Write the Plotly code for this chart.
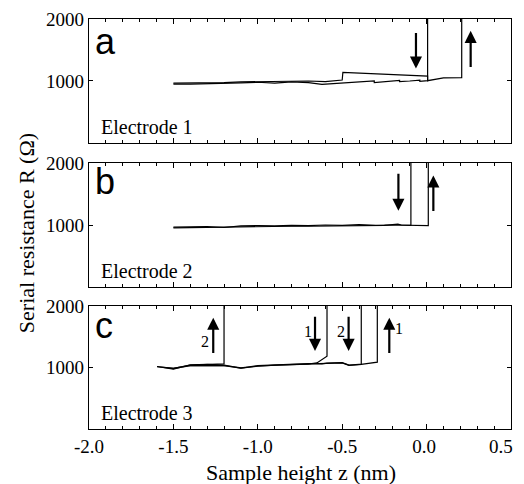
import plotly.graph_objects as go

# ---------------- data (sample height z in nm, resistance R in ohm) ----------------
# Panel a, Electrode 1
a_down_z = [0.006, 0.006, -0.04, -0.04, -0.10, -0.16, -0.16, -0.25, -0.31, -0.31, -0.40, -0.50,
            -0.62, -0.70, -0.80, -0.90, -1.00, -1.10, -1.20, -1.30, -1.40, -1.50]
a_down_R = [2000, 1005, 995, 1015, 1000, 990, 1010, 995, 975, 1000, 985, 965,
            945, 975, 985, 965, 980, 970, 960, 955, 950, 950]
a_up_z = [-1.50, -1.40, -1.30, -1.20, -1.10, -1.00, -0.90, -0.80, -0.70, -0.60, -0.50, -0.496,
          0.006, 0.006, 0.10, 0.10, 0.208, 0.208]
a_up_R = [965, 965, 970, 975, 985, 990, 995, 990, 1000, 990, 1015, 1140,
          1080, 1005, 1040, 1050, 1055, 2000]

# Panel b, Electrode 2
b_down_z = [-0.093, -0.093, -0.15, -0.17, -0.25, -0.35, -0.45, -0.55, -0.70, -0.80,
            -0.90, -1.00, -1.10, -1.20, -1.30, -1.40, -1.50]
b_down_R = [2000, 995, 1000, 1015, 995, 990, 990, 985, 980, 980,
            975, 970, 975, 960, 965, 955, 955]
b_up_z = [-1.50, -1.40, -1.30, -1.20, -1.10, -1.00, -0.90, -0.80, -0.70, -0.60, -0.50,
          -0.40, -0.30, -0.20, -0.093, 0.01, 0.01]
b_up_R = [965, 970, 975, 960, 985, 990, 985, 995, 990, 1000, 995,
          1005, 995, 1000, 990, 990, 2000]

# Panel c, Electrode 3
c1_z = [-0.59, -0.59, -0.65, -0.70, -0.80, -0.90, -1.00, -1.10, -1.20, -1.30, -1.40,
        -1.50, -1.597, -1.50, -1.40, -1.30, -1.20, -1.10, -1.00, -0.90, -0.80, -0.70,
        -0.62, -0.59, -0.50, -0.46, -0.40, -0.387, -0.292, -0.292]
c1_R = [2000, 1183, 1075, 1055, 1045, 1040, 1025, 995, 1035, 1030, 1035,
        985, 1016, 975, 1045, 1050, 1040, 990, 1030, 1040, 1050, 1065,
        1060, 1070, 1080, 1040, 1050, 1052, 1086, 2000]
c2_z = [-0.387, -0.387, -0.46, -0.50, -0.59, -0.70, -0.80, -0.90, -1.00, -1.10, -1.20,
        -1.30, -1.40, -1.50, -1.597, -1.50, -1.40, -1.30, -1.20, -1.20]
c2_R = [2000, 1048, 1035, 1075, 1068, 1060, 1045, 1040, 1020, 990, 1030,
        1025, 1030, 980, 1012, 985, 1040, 1050, 1059, 2000]

x_tick_vals = [-2.0, -1.5, -1.0, -0.5, 0.0, 0.5]
x_tick_text = ["-2.0", "-1.5", "-1.0", "-0.5", "0.0\u00a0", ""]
x_last_label = "0.5"   # drawn right-aligned at the axis end so it stays inside the page
y_tick_vals = [1000, 2000]
y_tick_text = ["1000", "2000"]
panel_letters = ["a", "b", "c"]
panel_names = ["Electrode 1", "Electrode 2", "Electrode 3"]

# arrows: (panel, z, R_start, R_end)
arrows = [(1, -0.063, 1800, 1200), (1, 0.261, 1200, 1810),
          (2, -0.167, 1850, 1230), (2, 0.040, 1200, 1800),
          (3, -1.264, 1210, 1810), (3, -0.661, 1850, 1270),
          (3, -0.462, 1850, 1270), (3, -0.221, 1210, 1810)]
# arrow number labels: (panel, z, R, text)
arrow_nums = [(3, -1.31, 1430, "2"), (3, -0.703, 1580, "1"),
              (3, -0.507, 1580, "2"), (3, -0.162, 1630, "1")]

# ---------------- figure ----------------
SERIF = "Liberation Serif"
fig = go.Figure()
line = dict(color="black", width=1.2)

series = [(1, a_down_z, a_down_R), (1, a_up_z, a_up_R),
          (2, b_down_z, b_down_R), (2, b_up_z, b_up_R),
          (3, c1_z, c1_R), (3, c2_z, c2_R)]
for p, zz, rr in series:
    fig.add_trace(go.Scatter(x=zz, y=rr, mode="lines", line=line,
                             xaxis="x" if p == 1 else f"x{p}",
                             yaxis="y" if p == 1 else f"y{p}",
                             showlegend=False, hoverinfo="skip"))

domains = {1: [0.6976, 1.0], 2: [0.3463, 0.6488], 3: [0.0, 0.3]}
layout = dict(width=524, height=484, margin=dict(l=81, r=21, t=11, b=63, autoexpand=False),
              paper_bgcolor="white", plot_bgcolor="white", showlegend=False)
for p in (1, 2, 3):
    xs = "xaxis" if p == 1 else f"xaxis{p}"
    ys = "yaxis" if p == 1 else f"yaxis{p}"
    yid = "y" if p == 1 else f"y{p}"
    xid = "x" if p == 1 else f"x{p}"
    layout[xs] = dict(range=[-2.0, 0.5], anchor=yid, domain=[0, 1], automargin=False,
                      tickvals=x_tick_vals, ticktext=x_tick_text,
                      showticklabels=(p == 3), ticks="inside", ticklen=5,
                      tickcolor="black", showline=True, linecolor="black",
                      linewidth=1.2, mirror="ticks", showgrid=False, zeroline=False,
                      minor=dict(dtick=0.1, ticks="inside", ticklen=3, tickcolor="black",
                                 showgrid=False),
                      tickfont=dict(family=SERIF, size=19, color="black"))
    if p != 3:
        layout[xs]["matches"] = "x3"
    layout[ys] = dict(range=[0, 2000], anchor=xid, domain=domains[p], automargin=False,
                      tickvals=y_tick_vals, ticktext=y_tick_text,
                      ticks="inside", ticklen=4, tickcolor="black",
                      showline=True, linecolor="black", linewidth=1.2,
                      mirror="ticks", showgrid=False, zeroline=False,
                      tickfont=dict(family=SERIF, size=19, color="black"))
fig.update_layout(**layout)

ann = []
letter_y = {1: 1640, 2: 1700, 3: 1690}
for i, p in enumerate((1, 2, 3)):
    xr = "x" if p == 1 else f"x{p}"
    yr = "y" if p == 1 else f"y{p}"
    ann.append(dict(x=-1.975, y=letter_y[p], xref=xr, yref=yr, text=panel_letters[i],
                    showarrow=False, xanchor="left", yanchor="middle",
                    font=dict(family="Liberation Sans", size=36, color="black")))
    ann.append(dict(x=-1.94, y=265, xref=xr, yref=yr, text=panel_names[i],
                    showarrow=False, xanchor="left", yanchor="middle",
                    font=dict(family=SERIF, size=20, color="black")))
for p, z, r0, r1 in arrows:
    xr = "x" if p == 1 else f"x{p}"
    yr = "y" if p == 1 else f"y{p}"
    ann.append(dict(x=z, y=r1, ax=z, ay=r0, xref=xr, yref=yr, axref=xr, ayref=yr,
                    text="", showarrow=True, arrowhead=2, arrowsize=1.1,
                    arrowwidth=2.2, arrowcolor="black"))
for p, z, r, t in arrow_nums:
    xr = "x" if p == 1 else f"x{p}"
    yr = "y" if p == 1 else f"y{p}"
    ann.append(dict(x=z, y=r, xref=xr, yref=yr, text=t, showarrow=False,
                    xanchor="center", yanchor="middle",
                    font=dict(family=SERIF, size=16, color="black")))
ann.append(dict(x=0.5, y=-0.042, xref="x3", yref="paper", text=x_last_label,
                showarrow=False, xanchor="right", yanchor="middle", xshift=4,
                font=dict(family=SERIF, size=19, color="black")))
ann.append(dict(x=-0.149, y=0.478, xref="paper", yref="paper",
                text="Serial resistance R (\u03a9)", textangle=-90, showarrow=False,
                xanchor="center", yanchor="middle",
                font=dict(family=SERIF, size=22, color="black")))
ann.append(dict(x=0.502, y=-0.107, xref="paper", yref="paper",
                text="Sample height z (nm)", showarrow=False,
                xanchor="center", yanchor="middle",
                font=dict(family=SERIF, size=22, color="black")))
fig.update_layout(annotations=ann)

fig.write_html("out.html")
